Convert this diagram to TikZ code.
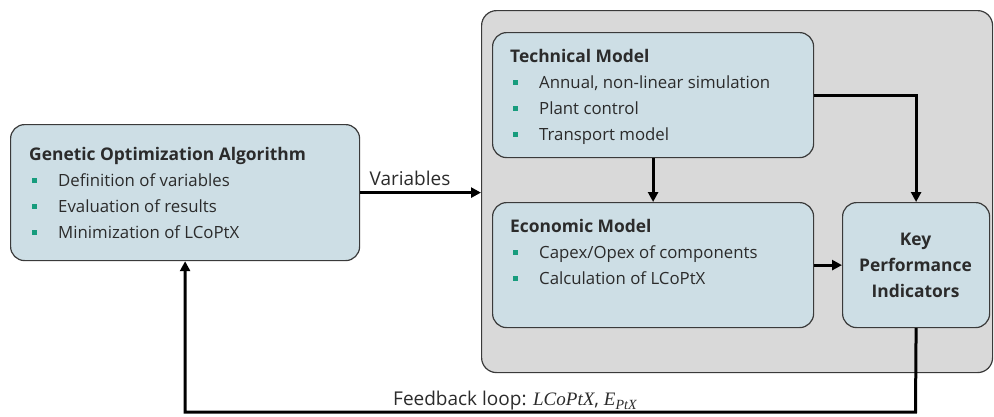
\documentclass[tikz,border=0pt]{standalone}
\usepackage{fontspec}
\setmainfont{Open Sans}
\newfontfamily\mserif{Liberation Serif}
\usetikzlibrary{arrows.meta}
\definecolor{boxfill}{HTML}{CDDEE5}
\definecolor{greyfill}{HTML}{D9D9D9}
\definecolor{boxline}{HTML}{3A3A3A}
\definecolor{bgreen}{HTML}{179C7D}
\definecolor{txt}{HTML}{2B2B2B}
\newcommand\bitem[1]{\hspace{3pt}\textcolor{bgreen}{\rule[3.5pt]{5pt}{5pt}}\hspace{21pt}#1}
\newcommand\ttl[1]{{\fontsize{17.4}{26}\selectfont\bfseries #1}}
\tikzset{
  box/.style={draw=boxline, line width=1.2pt, fill=boxfill, rounded corners=14pt, anchor=north west, inner sep=0pt},
  bigbox/.style={draw=boxline, line width=1.2pt, fill=greyfill, rounded corners=15pt, anchor=north west, inner sep=0pt},
  lbl/.style={anchor=base west, inner sep=0pt, text=txt, font=\fontsize{16.8}{26}\selectfont},
  biglbl/.style={anchor=base west, inner sep=0pt, text=txt, font=\fontsize{19}{22}\selectfont},
  conn/.style={line width=3pt, -{Triangle[length=10pt,width=10pt]}}
}
\begin{document}
\begin{tikzpicture}[x=1pt,y=-1pt]
\useasboundingbox (0,0) rectangle (994,416);
\node[bigbox, minimum width=511pt, minimum height=362pt] (big) at (481,10) {};
\node[box, minimum width=349pt, minimum height=136pt] (goa) at (10,124) {};
\node[box, minimum width=321pt, minimum height=125pt] (tech) at (492,32) {};
\node[box, minimum width=321pt, minimum height=125pt] (eco) at (492,202) {};
\node[box, minimum width=147pt, minimum height=125pt] (kpi) at (842,202) {};
\node[lbl] (goatxt) at (29,160) {\begin{tabular}[t]{@{}l@{}}\ttl{Genetic Optimization Algorithm}\\ \bitem{Definition of variables}\\ \bitem{Evaluation of results}\\ \bitem{Minimization of LCoPtX}\end{tabular}};
\node[lbl] (techtxt) at (510,62) {\begin{tabular}[t]{@{}l@{}}\ttl{Technical Model}\\ \bitem{Annual, non-linear simulation}\\ \bitem{Plant control}\\ \bitem{Transport model}\end{tabular}};
\node[lbl] (ecotxt) at (510,232) {\begin{tabular}[t]{@{}l@{}}\ttl{Economic Model}\\ \bitem{Capex/Opex of components}\\ \bitem{Calculation of LCoPtX}\end{tabular}};
\node[lbl, anchor=base] (kpitxt) at (915.5,245) {\begin{tabular}[t]{@{}c@{}}\ttl{Key}\\ \ttl{Performance}\\ \ttl{Indicators}\end{tabular}};
\draw[conn] (goa.east) -- (goa.east -| big.west);
\node[biglbl, anchor=base] (varlbl) at (410,185) {Variables};
\draw[conn] (tech.south) -- (eco.north);
\draw[conn] (tech.east) -| (kpi.north);
\draw[conn] (eco.east) -- (kpi.west);
\coordinate (fbcorner) at (915.5,412);
\draw[conn] (kpi.south) -- (fbcorner) -| (goa.south);
\node[biglbl] (fblbl) at (393,405) {Feedback loop: {\mserif\itshape LCoPtX}, {\mserif\itshape E\raisebox{-4pt}{\fontsize{14}{14}\selectfont PtX}}};
\end{tikzpicture}
\end{document}
